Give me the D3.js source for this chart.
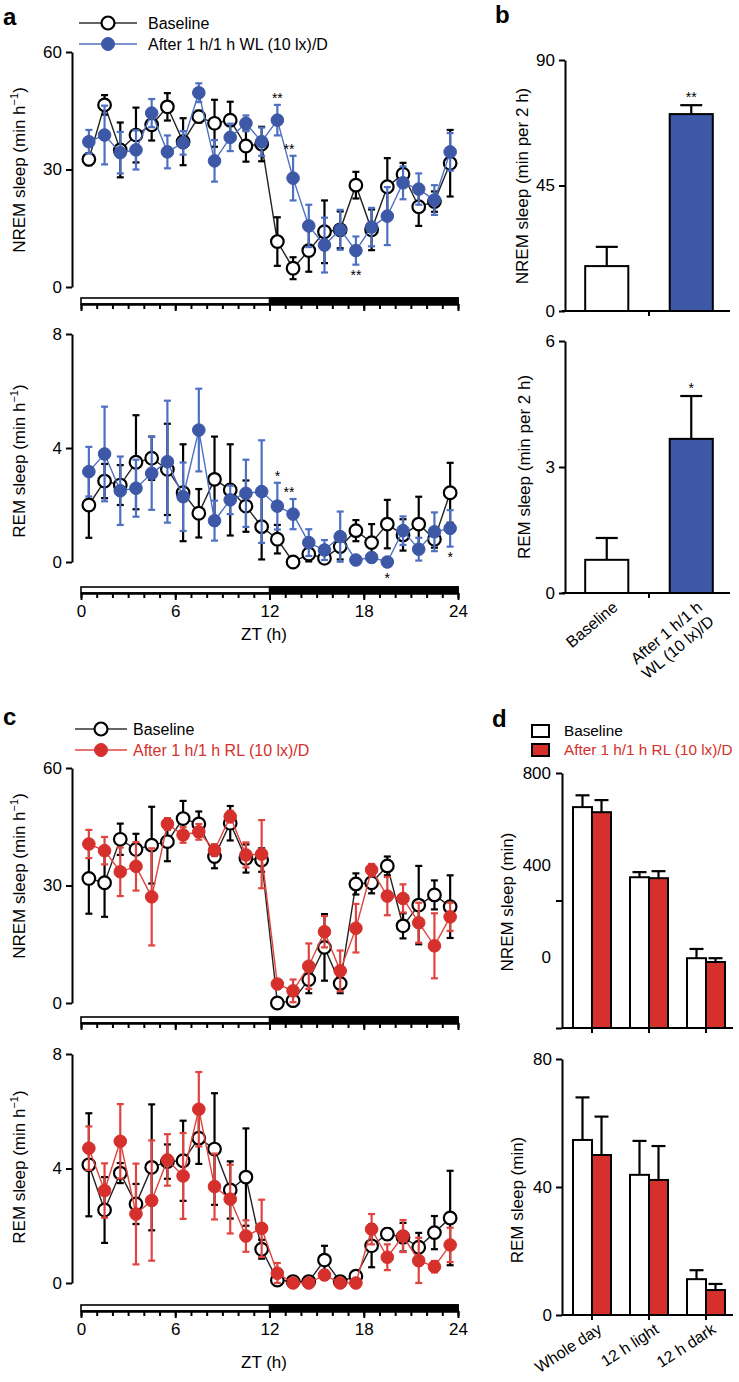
<!DOCTYPE html>
<html><head><meta charset="utf-8">
<script src="https://cdn.jsdelivr.net/npm/d3@7"></script>
<style>body{margin:0;background:#fff} svg{display:block}</style>
</head><body><svg id="c" width="739" height="1382"></svg>
<script>
// ---------------- DATA ----------------
const ztHours = d3.range(24).map(i => i + 0.5);
const ztTickLabels = [0, 6, 12, 18, 24];

// Panel a (WL)
const aNremBase    = [32.6, 46.5, 35, 38.8, 41.4, 46, 37.1, 43.5, 41.8, 42.6, 36, 36.5, 11.6, 4.8, 9.3, 14.1, 14.6, 26, 14.6, 25.6, 28.8, 20.5, 21.8, 31.6];
const aNremBaseSem = [1.5, 2.5, 7, 7, 4, 3.5, 6, 1.5, 6, 4.7, 4, 4.4, 6.2, 2.8, 5.4, 8, 4.7, 3.4, 5.2, 7.3, 2.9, 4.9, 2.6, 8.5];
const aNremWL      = [37.1, 38.8, 34.3, 35, 44.4, 34.5, 36.8, 49.6, 32.2, 38.2, 41.8, 37.1, 42.6, 27.8, 15.6, 10.7, 14.6, 9.3, 15.3, 18.1, 26.6, 25, 22.2, 34.5];
const aNremWLSem   = [3, 7.5, 5.3, 5, 3.6, 4.2, 3, 2.4, 5.3, 3.5, 2, 3.6, 3.9, 5.7, 5.4, 7, 5.1, 3.6, 4.9, 7.4, 4.2, 4, 3.8, 4.8];
const aRemBase     = [2.0, 2.84, 2.7, 3.5, 3.64, 3.25, 2.43, 1.71, 2.9, 2.53, 1.96, 1.24, 0.8, 0.0, 0.28, 0.13, 0.54, 1.1, 0.68, 1.33, 0.95, 1.33, 0.8, 2.43];
const aRemBaseSem  = [1.15, 0.6, 0.7, 1.65, 0.76, 1.6, 1.7, 0.85, 1.5, 1.6, 0.9, 1.15, 0.5, 0.05, 0.26, 0.13, 0.45, 0.37, 0.65, 0.85, 0.55, 0.96, 0.3, 1.05];
const aRemWL       = [3.17, 3.79, 2.5, 2.59, 3.11, 3.52, 2.29, 4.63, 1.45, 2.18, 2.41, 2.47, 1.96, 1.68, 0.68, 0.42, 0.89, 0.07, 0.16, 0.0, 1.1, 0.45, 1.06, 1.18];
const aRemWLSem    = [0.87, 1.66, 1.2, 1.0, 1.28, 2.14, 1.2, 1.45, 0.7, 0.5, 1.18, 1.8, 0.82, 0.53, 0.47, 0.35, 0.88, 0.05, 0.1, 0.05, 0.5, 0.4, 0.68, 0.64];
const aNremStars = [{i: 12, t: "**", pos: "above"}, {i: 13, t: "**", pos: "above"}, {i: 17, t: "**", pos: "below"}];
const aRemStars  = [{i: 12, t: "*", pos: "above"}, {i: 13, t: "**", pos: "above"}, {i: 19, t: "*", pos: "below"}, {i: 23, t: "*", pos: "below"}];

// Panel b (WL, ZT12-14)
const bCats = ["Baseline", "After 1 h/1 h WL (10 lx)/D"];
const bCatLines = [["Baseline"], ["After 1 h/1 h", "WL (10 lx)/D"]];
const bNrem = [16.1, 70.6];
const bNremSem = [6.9, 3.2];
const bRem = [0.79, 3.67];
const bRemSem = [0.52, 1.02];
const bNremStars = ["", "**"];
const bRemStars = ["", "*"];

// Panel c (RL)
const cNremBase    = [31.8, 30.7, 41.8, 39.2, 40.3, 41.2, 47.1, 45.7, 37.4, 45.9, 36.9, 36.5, 0, 0.6, 6, 14.2, 5, 30.4, 30.7, 35, 19.7, 25, 27.6, 24.6];
const cNremBaseSem = [9, 8.7, 4, 4, 9.8, 5, 4.5, 3.2, 3, 4.4, 3.6, 3, 1, 1, 3.5, 8.5, 2.5, 2.7, 2.7, 2.4, 3.2, 10, 3.7, 8];
const cNremRL      = [40.6, 38.9, 33.5, 34.9, 27.1, 45.7, 42.9, 43.7, 39, 47.6, 37.8, 38, 4.85, 3.1, 9.4, 18.2, 8.2, 19.1, 34, 27.3, 26.7, 20.5, 14.6, 22];
const cNremRLSem   = [3.6, 3.5, 6.2, 6.2, 12.4, 1.5, 2, 2, 1.5, 1.5, 3.2, 8.7, 1, 2.9, 5.8, 4, 5.2, 6.2, 1.5, 4.9, 3.6, 5.1, 8.3, 3.6];
const cRemBase     = [4.13, 2.55, 3.84, 2.76, 4.04, 4.24, 4.27, 5.06, 4.68, 3.25, 3.7, 1.18, 0.1, 0.05, 0.05, 0.8, 0.05, 0.24, 1.3, 1.71, 1.6, 1.25, 1.76, 2.27];
const cRemBaseSem  = [1.8, 1.15, 0.35, 0.7, 2.2, 0.6, 1.4, 0.9, 1.95, 1.0, 1.7, 0.33, 0.1, 0.05, 0.05, 0.5, 0.05, 0.1, 0.75, 0.2, 0.5, 0.5, 0.58, 1.65];
const cRemRL       = [4.71, 3.23, 4.95, 2.41, 2.88, 4.3, 3.74, 6.07, 3.37, 2.93, 1.64, 1.91, 0.34, 0, 0, 0.28, 0, 0, 1.88, 0.9, 1.64, 0.78, 0.57, 1.33];
const cRemRLSem    = [0.76, 0.95, 1.3, 1.76, 2.1, 0.9, 1.5, 1.3, 1.15, 1.2, 0.55, 1.0, 0.36, 0, 0, 0.15, 0, 0, 0.53, 0.45, 0.56, 0.8, 0.2, 0.6];

// Panel d (RL totals)
const dCats = ["Whole day", "12 h light", "12 h dark"];
const dNremBase = [693, 473, 219];
const dNremBaseSem = [37, 16, 29];
const dNremRL = [677, 470, 207];
const dNremRLSem = [38, 22, 12];
const dRemBase = [54.7, 43.8, 11.2];
const dRemBaseSem = [13.3, 10.6, 2.8];
const dRemRL = [50, 42.2, 7.8];
const dRemRLSem = [12, 10.6, 1.9];
const dNremTickLabels = [800, 400, 0];

// ---------------- STYLE ----------------
const FONT = '"Liberation Sans", Arial, Helvetica, sans-serif';
const BLUE = "#3c58a7", BLUE_L = "#4e70c2";
const RED = "#d6302d", RED_L = "#e0443f";
const svg = d3.select("#c");
const AXX = 72;
const xZT = d3.scaleLinear().domain([0, 24]).range([81, 458]);

function styleAxis(sel, fs) {
  sel.attr("font-family", FONT).attr("font-size", fs || 17);
  sel.select(".domain").attr("stroke", "#000").attr("stroke-width", 2);
  sel.selectAll(".tick line").attr("stroke", "#000").attr("stroke-width", 2);
  sel.selectAll(".tick text").attr("fill", "#000");
}

function yTitle(x, cy, main, sup, tail, fs) {
  const t = svg.append("text").attr("transform", `translate(${x},${cy}) rotate(-90)`)
    .attr("text-anchor", "middle").attr("font-family", FONT).attr("font-size", fs || 17);
  t.append("tspan").text(main);
  if (sup) {
    t.append("tspan").attr("dy", -7).attr("font-size", (fs || 17) * 0.65).text(sup);
    t.append("tspan").attr("dy", 7).text(tail);
  }
  return t;
}

function ldBar(yTop, showLabels) {
  const g = svg.append("g");
  const h = 6;
  g.append("rect").attr("x", xZT(0)).attr("y", yTop).attr("width", xZT(24) - xZT(0)).attr("height", h)
    .attr("fill", "#fff").attr("stroke", "#000").attr("stroke-width", 1.6);
  g.append("rect").attr("x", xZT(12)).attr("y", yTop).attr("width", xZT(24) - xZT(12)).attr("height", h)
    .attr("fill", "#000").attr("stroke", "#000").attr("stroke-width", 1.6);
  g.append("g").attr("transform", `translate(0,${yTop + h})`)
    .call(d3.axisBottom(xZT).tickValues(d3.range(0, 25)).tickSize(5).tickSizeOuter(0).tickFormat(""))
    .call(s => styleAxis(s));
  g.append("g").attr("transform", `translate(0,${yTop + h})`)
    .call(d3.axisBottom(xZT).tickValues(ztTickLabels).tickSize(7).tickSizeOuter(0).tickPadding(5)
      .tickFormat(showLabels ? d3.format("d") : ""))
    .call(s => styleAxis(s));
}

function linePanel(o) {
  const y = o.y;
  svg.append("g").attr("transform", `translate(${AXX},0)`)
    .call(d3.axisLeft(y).tickValues(o.yTicks).tickSize(6).tickSizeOuter(0).tickPadding(4).tickFormat(d3.format("d")))
    .call(s => styleAxis(s));
  ldBar(y(0) + o.ldOff, o.showX);
  o.series.forEach(s => {
    const g = svg.append("g");
    const pts = ztHours.map((h, i) => ({h, v: s.vals[i], e: s.sem[i]}));
    g.append("path").datum(pts)
      .attr("d", d3.line().x(d => xZT(d.h)).y(d => y(d.v)))
      .attr("fill", "none").attr("stroke", s.lineColor).attr("stroke-width", 1.4);
    const eb = g.selectAll("g.eb").data(pts.filter(d => d.e > 0)).join("g").attr("stroke", s.errColor).attr("stroke-width", 2.2);
    eb.append("line").attr("x1", d => xZT(d.h)).attr("x2", d => xZT(d.h))
      .attr("y1", d => y(Math.max(0, d.v - d.e))).attr("y2", d => y(d.v + d.e));
    eb.append("line").attr("x1", d => xZT(d.h) - 3.5).attr("x2", d => xZT(d.h) + 3.5)
      .attr("y1", d => y(d.v + d.e)).attr("y2", d => y(d.v + d.e));
    eb.append("line").attr("x1", d => xZT(d.h) - 3.5).attr("x2", d => xZT(d.h) + 3.5)
      .attr("y1", d => y(Math.max(0, d.v - d.e))).attr("y2", d => y(Math.max(0, d.v - d.e)));
    g.selectAll("circle").data(pts).join("circle")
      .attr("cx", d => xZT(d.h)).attr("cy", d => y(d.v)).attr("r", 6.3)
      .attr("fill", s.open ? "#fff" : s.fill).attr("stroke", s.open ? "#000" : s.fill).attr("stroke-width", s.open ? 2.2 : 1);
    if (s.stars) {
      svg.append("g").selectAll("text").data(s.stars).join("text")
        .attr("x", d => xZT(ztHours[d.i]) - (d.pos === "above" && d.t === "**" && d.i === 13 ? 4 : 0))
        .attr("y", d => d.pos === "above" ? y(s.vals[d.i] + s.sem[d.i]) - 2
                                          : Math.max(y(Math.max(0, s.vals[d.i] - s.sem[d.i])), y(s.vals[d.i]) + 6.3) + 15)
        .attr("text-anchor", "middle").attr("font-family", FONT).attr("font-size", 14).text(d => d.t);
    }
  });
}

function legendLines(x0, x1, yA, textX, items) {
  items.forEach((it, k) => {
    const yy = yA + k * 21;
    svg.append("line").attr("x1", x0).attr("x2", x1).attr("y1", yy).attr("y2", yy).attr("stroke", it.line).attr("stroke-width", 1.6);
    svg.append("circle").attr("cx", (x0 + x1) / 2).attr("cy", yy).attr("r", 6.5)
      .attr("fill", it.open ? "#fff" : it.fill).attr("stroke", it.open ? "#000" : it.fill).attr("stroke-width", it.open ? 2.2 : 1);
    svg.append("text").attr("x", textX).attr("y", yy + 6).attr("font-family", FONT).attr("font-size", 16)
      .attr("fill", it.textColor).text(it.label);
  });
}

function panelLetter(x, y, t) {
  svg.append("text").attr("x", x).attr("y", y).attr("font-family", FONT).attr("font-size", 24).attr("font-weight", "bold").text(t);
}

// ---------------- PANEL a ----------------
panelLetter(3, 25, "a");
legendLines(79, 137, 23, 148, [
  {label: "Baseline", open: true, line: "#333", textColor: "#000"},
  {label: "After 1 h/1 h WL (10 lx)/D", open: false, fill: BLUE, line: BLUE_L, textColor: "#000"}
]);
const yaN = d3.scaleLinear().domain([0, 60]).range([287, 52]);
linePanel({y: yaN, yTicks: [0, 30, 60], ldOff: 11, showX: false, series: [
  {vals: aNremBase, sem: aNremBaseSem, open: true, lineColor: "#222", errColor: "#000"},
  {vals: aNremWL, sem: aNremWLSem, open: false, fill: BLUE, lineColor: BLUE_L, errColor: BLUE_L, stars: aNremStars}
]});
yTitle(25, 170, "NREM sleep (min h", "−1", ")");
const yaR = d3.scaleLinear().domain([0, 8]).range([562, 334]);
linePanel({y: yaR, yTicks: [0, 4, 8], ldOff: 25, showX: true, series: [
  {vals: aRemBase, sem: aRemBaseSem, open: true, lineColor: "#222", errColor: "#000"},
  {vals: aRemWL, sem: aRemWLSem, open: false, fill: BLUE, lineColor: BLUE_L, errColor: BLUE_L, stars: aRemStars}
]});
yTitle(25, 461, "REM sleep (min h", "−1", ")");
svg.append("text").attr("x", 264).attr("y", 640).attr("text-anchor", "middle").attr("font-family", FONT).attr("font-size", 17).text("ZT (h)");

// ---------------- PANEL b ----------------
panelLetter(495, 23, "b");
const xb = d3.scaleBand().domain(bCats).range([565, 733]).paddingInner(0.49).paddingOuter(0.239);
function barPanelB(y, vals, sems, stars, ticks, showCats) {
  const y0 = y.range()[0];
  svg.append("g").attr("transform", "translate(565,0)")
    .call(d3.axisLeft(y).tickValues(ticks).tickSize(6).tickSizeOuter(0).tickPadding(4).tickFormat(d3.format("d")))
    .call(s => styleAxis(s));
  const g = svg.append("g");
  bCats.forEach((c, i) => {
    const cx = xb(c) + xb.bandwidth() / 2;
    g.append("line").attr("x1", cx).attr("x2", cx).attr("y1", y(vals[i])).attr("y2", y(vals[i] + sems[i])).attr("stroke", "#000").attr("stroke-width", 2.2);
    g.append("line").attr("x1", cx - 11).attr("x2", cx + 11).attr("y1", y(vals[i] + sems[i])).attr("y2", y(vals[i] + sems[i])).attr("stroke", "#000").attr("stroke-width", 2.2);
    g.append("rect").attr("x", xb(c)).attr("y", y(vals[i])).attr("width", xb.bandwidth()).attr("height", y0 - y(vals[i]))
      .attr("fill", i === 0 ? "#fff" : BLUE).attr("stroke", "#000").attr("stroke-width", 2);
    if (stars[i]) g.append("text").attr("x", cx).attr("y", y(vals[i] + sems[i]) - 3).attr("text-anchor", "middle")
      .attr("font-family", FONT).attr("font-size", 14).text(stars[i]);
  });
  const xr = xb.range();
  g.append("line").attr("x1", xr[0] - 3).attr("x2", xr[1] - 3).attr("y1", y0).attr("y2", y0).attr("stroke", "#000").attr("stroke-width", 2);
  const mid = (xb(bCats[0]) + xb(bCats[1]) + xb.bandwidth()) / 2;
  g.append("line").attr("x1", mid).attr("x2", mid).attr("y1", y0).attr("y2", y0 + 5).attr("stroke", "#000").attr("stroke-width", 2);
  if (showCats) {
    bCats.forEach((c, i) => {
      const cx = xb(c) + xb.bandwidth() / 2;
      const t = g.append("text").attr("transform", `translate(${cx + 12},${y0 + 16}) rotate(-40)`)
        .attr("text-anchor", "end").attr("font-family", FONT).attr("font-size", 16);
      bCatLines[i].forEach((ln, k) => t.append("tspan").attr("x", 0).attr("dy", k === 0 ? 0 : "1.15em").text(ln));
    });
  }
}
const ybN = d3.scaleLinear().domain([0, 90]).range([311, 60]);
barPanelB(ybN, bNrem, bNremSem, bNremStars, [0, 45, 90], false);
yTitle(528, 186, "NREM sleep (min per 2 h)");
const ybR = d3.scaleLinear().domain([0, 6]).range([593, 341]);
barPanelB(ybR, bRem, bRemSem, bRemStars, [0, 3, 6], true);
yTitle(530, 467, "REM sleep (min per 2 h)");

// ---------------- PANEL c ----------------
panelLetter(3, 725, "c");
legendLines(75, 127, 729, 133, [
  {label: "Baseline", open: true, line: "#333", textColor: "#000"},
  {label: "After 1 h/1 h RL (10 lx)/D", open: false, fill: RED, line: RED_L, textColor: RED}
]);
const ycN = d3.scaleLinear().domain([0, 60]).range([1003, 768]);
linePanel({y: ycN, yTicks: [0, 30, 60], ldOff: 14, showX: false, series: [
  {vals: cNremBase, sem: cNremBaseSem, open: true, lineColor: "#222", errColor: "#000"},
  {vals: cNremRL, sem: cNremRLSem, open: false, fill: RED, lineColor: RED_L, errColor: RED_L}
]});
yTitle(25, 876, "NREM sleep (min h", "−1", ")");
const ycR = d3.scaleLinear().domain([0, 8]).range([1283, 1054]);
linePanel({y: ycR, yTicks: [0, 4, 8], ldOff: 22, showX: true, series: [
  {vals: cRemBase, sem: cRemBaseSem, open: true, lineColor: "#222", errColor: "#000"},
  {vals: cRemRL, sem: cRemRLSem, open: false, fill: RED, lineColor: RED_L, errColor: RED_L}
]});
yTitle(25, 1167, "REM sleep (min h", "−1", ")");
svg.append("text").attr("x", 264).attr("y", 1368).attr("text-anchor", "middle").attr("font-family", FONT).attr("font-size", 17).text("ZT (h)");

// ---------------- PANEL d ----------------
panelLetter(492, 727, "d");
[{label: "Baseline", fill: "#fff", tc: "#000"}, {label: "After 1 h/1 h RL (10 lx)/D", fill: RED, tc: RED}].forEach((it, k) => {
  svg.append("rect").attr("x", 532).attr("y", 725 + k * 19).attr("width", 17).attr("height", 12)
    .attr("fill", it.fill).attr("stroke", "#000").attr("stroke-width", 2);
  svg.append("text").attr("x", 564).attr("y", 736 + k * 19).attr("font-family", FONT).attr("font-size", 15.3).attr("fill", it.tc).text(it.label);
});
const xd = d3.scaleBand().domain(dCats).range([563.5, 734.5]).paddingInner(0.333).paddingOuter(0.1665);
function barPanelD(y, base, baseSem, rl, rlSem, showCats) {
  const y0 = y.range()[0];
  const g = svg.append("g");
  const bw = xd.bandwidth() / 2;
  dCats.forEach((c, i) => {
    [[base, baseSem, "#fff"], [rl, rlSem, RED]].forEach(([v, e, f], j) => {
      const x = xd(c) + j * bw;
      const cx = x + bw / 2;
      g.append("line").attr("x1", cx).attr("x2", cx).attr("y1", y(v[i])).attr("y2", y(v[i] + e[i])).attr("stroke", "#000").attr("stroke-width", 2.2);
      g.append("line").attr("x1", cx - 7).attr("x2", cx + 7).attr("y1", y(v[i] + e[i])).attr("y2", y(v[i] + e[i])).attr("stroke", "#000").attr("stroke-width", 2.2);
      g.append("rect").attr("x", x).attr("y", y(v[i])).attr("width", bw).attr("height", y0 - y(v[i]))
        .attr("fill", f).attr("stroke", "#000").attr("stroke-width", 2);
    });
  });
  g.append("line").attr("x1", 562).attr("x2", 733).attr("y1", y0).attr("y2", y0).attr("stroke", "#000").attr("stroke-width", 2);
  dCats.forEach(c => {
    const cx = xd(c) + xd.bandwidth() / 2;
    g.append("line").attr("x1", cx).attr("x2", cx).attr("y1", y0).attr("y2", y0 + 5).attr("stroke", "#000").attr("stroke-width", 2);
    if (showCats) g.append("text").attr("transform", `translate(${cx + 11},${y0 + 17}) rotate(-33)`)
      .attr("text-anchor", "end").attr("font-family", FONT).attr("font-size", 16).text(c);
  });
}
const ydN = d3.scaleLinear().domain([0, 800]).range([1028, 773]);
// tick labels as printed in the figure (compressed relative to tick marks)
const ydNLabel = d3.scaleLinear().domain([0, 800]).range([957, 773]);
svg.append("g").attr("transform", "translate(562,0)")
  .call(d3.axisLeft(ydN).tickValues([0, 400, 800]).tickSize(6).tickSizeOuter(0).tickFormat(""))
  .call(s => styleAxis(s));
svg.append("g").selectAll("text").data(dNremTickLabels).join("text")
  .attr("x", 551).attr("y", d => ydNLabel(d)).attr("dy", "0.35em").attr("text-anchor", "end")
  .attr("font-family", FONT).attr("font-size", 17).text(d => d);
barPanelD(ydN, dNremBase, dNremBaseSem, dNremRL, dNremRLSem, false);
yTitle(513, 902, "NREM sleep (min)");
const ydR = d3.scaleLinear().domain([0, 80]).range([1315, 1059]);
svg.append("g").attr("transform", "translate(562,0)")
  .call(d3.axisLeft(ydR).tickValues([0, 40, 80]).tickSize(6).tickSizeOuter(0).tickPadding(4).tickFormat(d3.format("d")))
  .call(s => styleAxis(s));
barPanelD(ydR, dRemBase, dRemBaseSem, dRemRL, dRemRLSem, true);
yTitle(523, 1200, "REM sleep (min)");
</script></body></html>
